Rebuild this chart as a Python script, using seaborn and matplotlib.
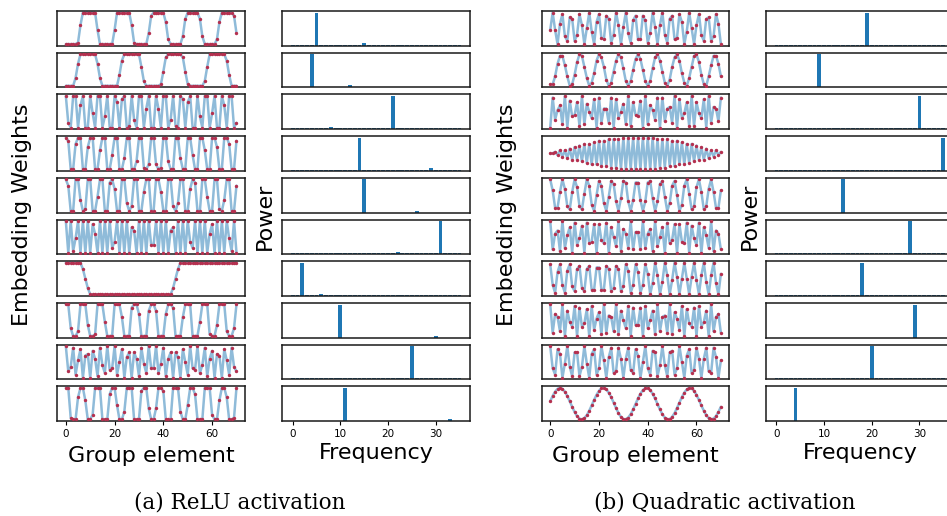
import matplotlib
matplotlib.use("Agg")
import matplotlib.pyplot as plt
import seaborn as sns

sns.set_theme(style="ticks")
plt.rcParams["font.family"] = ["DejaVu Sans"]
plt.rcParams["text.color"] = "black"
plt.rcParams["xtick.color"] = "black"

group_elements = list(range(71))
frequencies = list(range(36))
elem_ticks = [0, 20, 40, 60]
freq_ticks = [0, 10, 20, 30]

# ---------------- ReLU embedding weights (71 group elements each) ----------------
relu_w1 = [-1, -1, -1, -1, -1, -0.9, 0.2, 1, 1, 1,
           1, 1, 1, -0.1, -1, -1, -1, -1, -1, -1,
           -0.1, 1, 1, 1, 1, 1, 1, 0.2, -0.9, -1,
           -1, -1, -1, -1, -0.3, 0.8, 1, 1, 1, 1,
           1, 0.4, -0.7, -1, -1, -1, -1, -1, -0.5, 0.6,
           1, 1, 1, 1, 1, 0.6, -0.5, -1, -1, -1,
           -1, -1, -0.7, 0.4, 1, 1, 1, 1, 1, 0.8,
           -0.3]
relu_w2 = [-1, -1, -1, -1, -0.5, 0.4, 1, 1, 1, 1,
           1, 1, 1, 0.4, -0.5, -1, -1, -1, -1, -1,
           -1, -1, -0.3, 0.6, 1, 1, 1, 1, 1, 1,
           1, 0.2, -0.7, -1, -1, -1, -1, -1, -1, -0.9,
           -0.1, 0.8, 1, 1, 1, 1, 1, 1, 0.8, -0.1,
           -0.9, -1, -1, -1, -1, -1, -1, -0.7, 0.2, 1,
           1, 1, 1, 1, 1, 1, 0.6, -0.3, -1, -1,
           -1]
relu_w3 = [1, -0.7, -1, 1, 1, -1, 0.4, 1, -1, -1,
           1, -0.1, -1, 1, 1, -1, -0.3, 1, -1, -1,
           1, 0.6, -1, 0.8, 1, -1, -0.9, 1, -0.5, -1,
           1, 1, -1, 0.2, 1, -1, -1, 1, 0.2, -1,
           1, 1, -1, -0.5, 1, -0.9, -1, 1, 0.8, -1,
           0.6, 1, -1, -1, 1, -0.3, -1, 1, 1, -1,
           -0.1, 1, -1, -1, 1, 0.4, -1, 1, 1, -1,
           -0.7]
relu_w4 = [1, 0.8, -1, -1, 0.6, 1, 1, -1, -1, 0.4,
           1, 1, -1, -1, 0.2, 1, 1, -1, -1, -0.1,
           1, 1, -1, -1, -0.3, 1, 1, -1, -1, -0.5,
           1, 1, -0.9, -1, -0.7, 1, 1, -0.7, -1, -0.9,
           1, 1, -0.5, -1, -1, 1, 1, -0.3, -1, -1,
           1, 1, -0.1, -1, -1, 1, 1, 0.2, -1, -1,
           1, 1, 0.4, -1, -1, 1, 1, 0.6, -1, -1,
           0.8]
relu_w5 = [1, 0.6, -1, -1, 1, 1, -0.3, -1, -0.9, 1,
           1, -1, -1, -0.1, 1, 1, -1, -1, 0.8, 1,
           0.4, -1, -1, 1, 1, -0.5, -1, -0.7, 1, 1,
           -1, -1, 0.2, 1, 1, -1, -1, 1, 1, 0.2,
           -1, -1, 1, 1, -0.7, -1, -0.5, 1, 1, -1,
           -1, 0.4, 1, 0.8, -1, -1, 1, 1, -0.1, -1,
           -1, 1, 1, -0.9, -1, -0.3, 1, 1, -1, -1,
           0.6]
relu_w6 = [1, -1, 1, -0.9, -0.1, 1, -1, 1, -1, 1,
           -1, 0.8, 0.2, -1, 1, -1, 1, -1, 1, -0.7,
           -0.3, 1, -1, 1, -1, 1, -1, 0.6, 0.4, -1,
           1, -1, 1, -1, 1, -0.5, -0.5, 1, -1, 1,
           -1, 1, -1, 0.4, 0.6, -1, 1, -1, 1, -1,
           1, -0.3, -0.7, 1, -1, 1, -1, 1, -1, 0.2,
           0.8, -1, 1, -1, 1, -1, 1, -0.1, -0.9, 1,
           -1]
relu_w7 = [1, 1, 1, 1, 1, 1, 1, 0.6, 0, -0.6,
           -1, -1, -1, -1, -1, -1, -1, -1, -1, -1,
           -1, -1, -1, -1, -1, -1, -1, -1, -1, -1,
           -1, -1, -1, -1, -1, -1, -1, -1, -1, -1,
           -1, -1, -1, -1, -0.6, 0, 0.6, 1, 1, 1,
           1, 1, 1, 1, 1, 1, 1, 1, 1, 1,
           1, 1, 1, 1, 1, 1, 1, 1, 1, 1,
           1]
relu_w8 = [1, 1, -0.5, -1, -1, -0.7, 1, 1, 1, -0.3,
           -1, -1, -0.9, 1, 1, 1, -0.1, -1, -1, -1,
           1, 1, 1, 0.2, -1, -1, -1, 0.8, 1, 1,
           0.4, -1, -1, -1, 0.6, 1, 1, 0.6, -1, -1,
           -1, 0.4, 1, 1, 0.8, -1, -1, -1, 0.2, 1,
           1, 1, -1, -1, -1, -0.1, 1, 1, 1, -0.9,
           -1, -1, -0.3, 1, 1, 1, -0.7, -1, -1, -0.5,
           1]
relu_w9 = [1.0, -0.6, -0.3, 0.9, -0.8, 0.1, 0.8, -1.0, 0.4, 0.5,
           -1.0, 0.7, 0.2, -0.9, 0.9, -0.2, -0.7, 1.0, -0.5, -0.4,
           1.0, -0.8, 0.0, 0.8, -1.0, 0.3, 0.6, -1.0, 0.6, 0.2,
           -0.9, 0.9, -0.1, -0.7, 1.0, -0.4, -0.4, 1.0, -0.7, -0.1,
           0.9, -0.9, 0.2, 0.6, -1.0, 0.6, 0.3, -1.0, 0.8, 0.0,
           -0.8, 1.0, -0.4, -0.5, 1.0, -0.7, -0.2, 0.9, -0.9, 0.2,
           0.7, -1.0, 0.5, 0.4, -1.0, 0.8, 0.1, -0.8, 0.9, -0.3,
           -0.6]
relu_w10 = [1, 1, -0.9, -1, -1, 0.4, 1, 1, 0.2, -1,
            -1, -0.7, 1, 1, 1, -1, -1, -1, 0.6, 1,
            1, -0.1, -1, -1, -0.5, 1, 1, 1, -1, -1,
            -1, 0.8, 1, 1, -0.3, -1, -1, -0.3, 1, 1,
            0.8, -1, -1, -1, 1, 1, 1, -0.5, -1, -1,
            -0.1, 1, 1, 0.6, -1, -1, -1, 1, 1, 1,
            -0.7, -1, -1, 0.2, 1, 1, 0.4, -1, -1, -0.9,
            1]

# ---------------- Quadratic embedding weights ----------------
quad_w1 = [-0.1, 1.0, -0.1, -1.0, 0.3, 0.9, -0.5, -0.8, 0.7, 0.6,
           -0.8, -0.4, 0.9, 0.2, -1.0, 0.0, 1.0, -0.2, -1.0, 0.4,
           0.9, -0.6, -0.7, 0.8, 0.6, -0.9, -0.4, 1.0, 0.2, -1.0,
           0.1, 1.0, -0.3, -0.9, 0.5, 0.8, -0.7, -0.7, 0.8, 0.5,
           -0.9, -0.3, 1.0, 0.1, -1.0, 0.2, 1.0, -0.4, -0.9, 0.6,
           0.8, -0.7, -0.6, 0.9, 0.4, -1.0, -0.2, 1.0, 0.0, -1.0,
           0.2, 0.9, -0.4, -0.8, 0.6, 0.7, -0.8, -0.5, 0.9, 0.3,
           -1.0]
quad_w2 = [-0.9, -0.9, -0.4, 0.4, 0.9, 0.9, 0.3, -0.4, -1.0, -0.9,
           -0.3, 0.5, 1.0, 0.9, 0.2, -0.5, -1.0, -0.8, -0.2, 0.6,
           1.0, 0.8, 0.2, -0.6, -1.0, -0.8, -0.1, 0.6, 1.0, 0.8,
           0.1, -0.7, -1.0, -0.7, 0.0, 0.7, 1.0, 0.7, 0.0, -0.7,
           -1.0, -0.7, 0.1, 0.8, 1.0, 0.6, -0.1, -0.8, -1.0, -0.6,
           0.2, 0.8, 1.0, 0.6, -0.2, -0.8, -1.0, -0.5, 0.2, 0.9,
           1.0, 0.5, -0.3, -0.9, -1.0, -0.4, 0.3, 0.9, 0.9, 0.4,
           -0.4]
quad_w3 = [-1.0, 0.9, -0.5, 0.1, 0.4, -0.8, 1.0, -1.0, 0.7, -0.3,
           -0.2, 0.6, -0.9, 1.0, -0.8, 0.5, 0.0, -0.4, 0.8, -1.0,
           0.9, -0.7, 0.2, 0.2, -0.7, 0.9, -1.0, 0.8, -0.4, 0.0,
           0.5, -0.8, 1.0, -0.9, 0.6, -0.2, -0.3, 0.7, -1.0, 1.0,
           -0.8, 0.4, 0.1, -0.5, 0.9, -1.0, 0.9, -0.6, 0.2, 0.3,
           -0.7, 1.0, -1.0, 0.8, -0.4, -0.1, 0.6, -0.9, 1.0, -0.9,
           0.6, -0.1, -0.4, 0.8, -1.0, 1.0, -0.7, 0.3, 0.2, -0.6,
           0.9]
quad_w4 = [0.0, 0.0, 0.1, -0.1, 0.2, -0.2, 0.2, -0.3, 0.3, -0.4,
           0.4, -0.4, 0.5, -0.5, 0.6, -0.6, 0.6, -0.7, 0.7, -0.7,
           0.8, -0.8, 0.8, -0.8, 0.9, -0.9, 0.9, -0.9, 0.9, -1.0,
           1.0, -1.0, 1.0, -1.0, 1.0, -1.0, 1.0, -1.0, 1.0, -1.0,
           1.0, -1.0, 1.0, -1.0, 0.9, -0.9, 0.9, -0.9, 0.9, -0.8,
           0.8, -0.8, 0.8, -0.7, 0.7, -0.7, 0.6, -0.6, 0.6, -0.5,
           0.5, -0.4, 0.4, -0.4, 0.3, -0.3, 0.2, -0.2, 0.2, -0.1,
           0.1]
quad_w5 = [1.0, 0.3, -0.8, -0.8, 0.2, 1.0, 0.4, -0.7, -0.9, 0.2,
           1.0, 0.5, -0.7, -0.9, 0.1, 1.0, 0.6, -0.6, -1.0, 0.0,
           0.9, 0.6, -0.5, -1.0, -0.1, 0.9, 0.7, -0.4, -1.0, -0.2,
           0.9, 0.8, -0.4, -1.0, -0.3, 0.8, 0.8, -0.3, -1.0, -0.4,
           0.8, 0.9, -0.2, -1.0, -0.4, 0.7, 0.9, -0.1, -1.0, -0.5,
           0.6, 0.9, 0.0, -1.0, -0.6, 0.6, 1.0, 0.1, -0.9, -0.7,
           0.5, 1.0, 0.2, -0.9, -0.7, 0.4, 1.0, 0.2, -0.8, -0.8,
           0.3]
quad_w6 = [1.0, -0.8, 0.2, 0.4, -0.9, 1.0, -0.7, 0.1, 0.6, -1.0,
           0.9, -0.5, -0.1, 0.7, -1.0, 0.9, -0.4, -0.3, 0.8, -1.0,
           0.8, -0.2, -0.4, 0.9, -1.0, 0.6, 0.0, -0.6, 1.0, -0.9,
           0.5, 0.2, -0.7, 1.0, -0.8, 0.3, 0.3, -0.8, 1.0, -0.7,
           0.2, 0.5, -0.9, 1.0, -0.6, 0.0, 0.6, -1.0, 0.9, -0.4,
           -0.2, 0.8, -1.0, 0.8, -0.3, -0.4, 0.9, -1.0, 0.7, -0.1,
           -0.5, 0.9, -1.0, 0.6, 0.1, -0.7, 1.0, -0.9, 0.4, 0.2,
           -0.8]
quad_w7 = [0.9, -0.4, -0.9, 0.4, 0.9, -0.4, -0.9, 0.5, 0.9, -0.5,
           -0.8, 0.6, 0.8, -0.6, -0.8, 0.6, 0.8, -0.7, -0.7, 0.7,
           0.7, -0.7, -0.7, 0.8, 0.6, -0.8, -0.6, 0.8, 0.6, -0.8,
           -0.5, 0.9, 0.5, -0.9, -0.4, 0.9, 0.4, -0.9, -0.4, 0.9,
           0.3, -1.0, -0.3, 1.0, 0.2, -1.0, -0.2, 1.0, 0.2, -1.0,
           -0.1, 1.0, 0.1, -1.0, 0.0, 1.0, 0.0, -1.0, 0.1, 1.0,
           -0.1, -1.0, 0.2, 1.0, -0.2, -1.0, 0.2, 1.0, -0.3, -1.0,
           0.3]
quad_w8 = [1.0, -0.8, 0.4, 0.2, -0.7, 1.0, -1.0, 0.6, -0.1, -0.4,
           0.9, -1.0, 0.8, -0.4, -0.2, 0.7, -1.0, 0.9, -0.6, 0.1,
           0.5, -0.9, 1.0, -0.8, 0.3, 0.2, -0.7, 1.0, -0.9, 0.6,
           0.0, -0.5, 0.9, -1.0, 0.8, -0.3, -0.3, 0.8, -1.0, 0.9,
           -0.5, 0.0, 0.6, -0.9, 1.0, -0.7, 0.2, 0.3, -0.8, 1.0,
           -0.9, 0.5, 0.1, -0.6, 0.9, -1.0, 0.7, -0.2, -0.4, 0.8,
           -1.0, 0.9, -0.4, -0.1, 0.6, -1.0, 1.0, -0.7, 0.2, 0.4,
           -0.8]
quad_w9 = [1.0, -0.4, -0.8, 0.8, 0.5, -1.0, -0.1, 1.0, -0.3, -0.9,
           0.6, 0.6, -0.9, -0.3, 1.0, -0.1, -1.0, 0.5, 0.8, -0.8,
           -0.4, 1.0, 0.1, -1.0, 0.3, 0.9, -0.7, -0.6, 0.9, 0.2,
           -1.0, 0.2, 0.9, -0.5, -0.7, 0.8, 0.4, -1.0, 0.0, 1.0,
           -0.4, -0.8, 0.7, 0.6, -0.9, -0.2, 1.0, -0.2, -0.9, 0.6,
           0.7, -0.8, -0.4, 1.0, 0.0, -1.0, 0.4, 0.8, -0.7, -0.5,
           0.9, 0.2, -1.0, 0.2, 0.9, -0.6, -0.7, 0.9, 0.3, -1.0,
           0.1]
quad_w10 = [0.15, 0.49, 0.76, 0.94, 1.00, 0.94, 0.76, 0.49, 0.15, -0.20,
            -0.53, -0.79, -0.95, -1.00, -0.92, -0.73, -0.45, -0.11, 0.24, 0.56,
            0.81, 0.97, 1.00, 0.90, 0.70, 0.41, 0.07, -0.28, -0.60, -0.84,
            -0.98, -0.99, -0.88, -0.67, -0.37, -0.02, 0.33, 0.63, 0.86, 0.98,
            0.98, 0.86, 0.63, 0.33, -0.02, -0.37, -0.67, -0.88, -0.99, -0.98,
            -0.84, -0.60, -0.28, 0.07, 0.41, 0.70, 0.90, 1.00, 0.97, 0.81,
            0.56, 0.24, -0.11, -0.45, -0.73, -0.92, -1.00, -0.95, -0.79, -0.53,
            -0.20]

# ---------------- Power spectra (frequencies 0..35) ----------------
relu_p1 = [.03, .03, .03, .03, .03, 1.0, .03, .03, .03, .03, .03, .03, .03, .03, .03, .07, .03, .03,
           .03, .03, .03, .03, .03, .03, .03, .03, .03, .03, .03, .03, .03, .03, .03, .03, .03, .03]
relu_p2 = [0, 0, 0, 0, 1.0, 0, 0, 0, 0, 0, 0, 0, .07, 0, 0, 0, 0, 0,
           0, 0, 0, 0, 0, 0, 0, 0, 0, 0, 0, 0, 0, 0, 0, 0, 0, 0]
relu_p3 = [.03, .03, .03, .03, .03, .03, .03, .03, .06, .03, .03, .03, .03, .03, .03, .03, .03, .03,
           .03, .03, .03, 1.0, .03, .03, .03, .03, .03, .03, .03, .03, .03, .03, .03, .03, .03, .03]
relu_p4 = [.03, .03, .03, .03, .03, .03, .03, .03, .03, .03, .03, .03, .03, .03, 1.0, .03, .03, .03,
           .03, .03, .03, .03, .03, .03, .03, .03, .03, .03, .03, .07, .03, .03, .03, .03, .03, .03]
relu_p5 = [0, 0, 0, 0, 0, 0, 0, 0, 0, 0, 0, 0, 0, 0, 0, 1.0, 0, 0,
           0, 0, 0, 0, 0, 0, 0, 0, .06, 0, 0, 0, 0, 0, 0, 0, 0, 0]
relu_p6 = [.03, .03, .03, .03, .03, .03, .03, .03, .03, .03, .03, .03, .03, .03, .03, .03, .03, .03,
           .03, .03, .03, .03, .07, .03, .03, .03, .03, .03, .03, .03, .03, 1.0, .03, .03, .03, .03]
relu_p7 = [.03, .03, 1.0, .03, .03, .03, .07, .03, .03, .03, .03, .03, .03, .03, .03, .03, .03, .03,
           .03, .03, .03, .03, .03, .03, .03, .03, .03, .03, .03, .03, .03, .03, .03, .03, .03, .03]
relu_p8 = [0, 0, 0, 0, 0, 0, 0, 0, 0, 0, 1.0, 0, 0, 0, 0, 0, 0, 0,
           0, 0, 0, 0, 0, 0, 0, 0, 0, 0, 0, 0, .06, 0, 0, 0, 0, 0]
relu_p9 = [.03, .03, .03, .03, .05, .03, .03, .03, .04, .03, .03, .03, .03, .03, .03, .03, .03, .04,
           .03, .03, .03, .04, .03, .03, .03, 1.0, .03, .03, .03, .04, .03, .03, .03, .03, .03, .03]
relu_p10 = [0, 0, 0, 0, 0, 0, 0, 0, 0, 0, 0, 1.0, 0, 0, 0, 0, 0, 0,
            0, 0, 0, 0, 0, 0, 0, 0, 0, 0, 0, 0, 0, 0, 0, .07, 0, 0]

quad_p1 = [.03, .03, .03, .03, .03, .03, .03, .03, .03, .03, .03, .03, .03, .03, .03, .03, .03, .03,
           .03, 1.0, .03, .03, .03, .03, .03, .03, .03, .03, .03, .03, .03, .03, .03, .03, .03, .03]
quad_p2 = [0, 0, 0, 0, 0, 0, 0, 0, 0, 1.0, 0, 0, 0, 0, 0, 0, 0, 0,
           0, 0, 0, 0, 0, 0, 0, 0, 0, 0, 0, 0, 0, 0, 0, 0, 0, 0]
quad_p3 = [.03, .03, .03, .03, .03, .03, .03, .03, .03, .03, .03, .03, .03, .03, .03, .03, .03, .03,
           .03, .03, .03, .03, .03, .03, .03, .03, .03, .03, .03, .03, 1.0, .03, .03, .03, .03, .03]
quad_p4 = [.03, .03, .03, .03, .03, .03, .03, .03, .03, .03, .03, .03, .03, .03, .03, .03, .03, .03,
           .03, .03, .03, .03, .03, .03, .03, .03, .03, .03, .03, .03, .03, .03, .03, .03, .03, 1.0]
quad_p5 = [0, 0, 0, 0, 0, 0, 0, 0, 0, 0, 0, 0, 0, 0, 1.0, 0, 0, 0,
           0, 0, 0, 0, 0, 0, 0, 0, 0, 0, 0, 0, 0, 0, 0, 0, 0, 0]
quad_p6 = [.03, .03, .03, .03, .03, .03, .03, .03, .03, .03, .03, .03, .03, .03, .03, .03, .03, .03,
           .03, .03, .03, .03, .03, .03, .03, .03, .03, .03, 1.0, .03, .03, .03, .03, .03, .03, .03]
quad_p7 = [.03, .03, .03, .03, .03, .03, .03, .03, .03, .03, .03, .03, .03, .03, .03, .03, .03, .03,
           1.0, .03, .03, .03, .03, .03, .03, .03, .03, .03, .03, .03, .03, .03, .03, .03, .03, .03]
quad_p8 = [0, 0, 0, 0, 0, 0, 0, 0, 0, 0, 0, 0, 0, 0, 0, 0, 0, 0,
           0, 0, 0, 0, 0, 0, 0, 0, 0, 0, 0, 1.0, 0, 0, 0, 0, 0, 0]
quad_p9 = [.03, .03, .03, .03, .03, .03, .03, .03, .03, .03, .03, .03, .03, .03, .03, .03, .03, .03,
           .03, .03, 1.0, .03, .03, .03, .03, .03, .03, .03, .03, .03, .03, .03, .03, .03, .03, .03]
quad_p10 = [0, 0, 0, 0, 1.0, 0, 0, 0, 0, 0, 0, 0, 0, 0, 0, 0, 0, 0,
            0, 0, 0, 0, 0, 0, 0, 0, 0, 0, 0, 0, 0, 0, 0, 0, 0, 0]

relu_weights = [relu_w1, relu_w2, relu_w3, relu_w4, relu_w5, relu_w6, relu_w7, relu_w8, relu_w9, relu_w10]
relu_power = [relu_p1, relu_p2, relu_p3, relu_p4, relu_p5, relu_p6, relu_p7, relu_p8, relu_p9, relu_p10]
quad_weights = [quad_w1, quad_w2, quad_w3, quad_w4, quad_w5, quad_w6, quad_w7, quad_w8, quad_w9, quad_w10]
quad_power = [quad_p1, quad_p2, quad_p3, quad_p4, quad_p5, quad_p6, quad_p7, quad_p8, quad_p9, quad_p10]

# ---------------- layout ----------------
W, H = 947, 516
fig = plt.figure(figsize=(W / 100, H / 100), dpi=100)

ROW_TOP, ROW_PITCH, ROW_H, COL_W = 11.0, 41.7, 34.7, 187.7
LINE_C = "#8fbbd9"
DOT_C = "#b5304f"
BAR_C = "#1f77b4"
BAR_W = 0.8


def add_ax(left, top):
    return fig.add_axes([left / W, 1 - (top + ROW_H) / H, COL_W / W, ROW_H / H])


def style(ax, last, ticks):
    for s in ax.spines.values():
        s.set_color("#1a1a1a")
        s.set_linewidth(1.1)
    ax.set_yticks([])
    ax.set_ylabel("")
    ax.set_xlabel("")
    if last:
        ax.set_xticks(ticks)
        ax.set_xticklabels([str(t) for t in ticks])
        ax.tick_params(axis="x", length=3, width=0.8, labelsize=7.5, pad=3)
    else:
        ax.set_xticks([])


panels = [(57.3, 282.3, relu_weights, relu_power), (541.7, 766.0, quad_weights, quad_power)]
n_freq = len(frequencies)
pad = 0.05 * (n_freq - 1 + BAR_W)
for wx, px, weights, power in panels:
    for i in range(10):
        top = ROW_TOP + i * ROW_PITCH
        last = i == 9
        ax = add_ax(wx, top)
        sns.lineplot(x=group_elements, y=weights[i], ax=ax, color=LINE_C, linewidth=1.8)
        sns.scatterplot(x=group_elements, y=weights[i], ax=ax, color=DOT_C, s=6,
                        linewidth=0, zorder=3)
        style(ax, last, elem_ticks)

        axp = add_ax(px, top)
        sns.barplot(x=frequencies, y=power[i], ax=axp, color=BAR_C, saturation=1,
                    width=BAR_W, native_scale=True, linewidth=0, edgecolor=BAR_C)
        axp.set_xlim(-BAR_W / 2 - pad, n_freq - 1 + BAR_W / 2 + pad)
        axp.set_ylim(0, 1.05)
        style(axp, last, freq_ticks)

LBL = 16
fig.text(22 / W, 1 - 215 / H, "Embedding Weights", rotation=90, ha="center", va="center", fontsize=LBL)
fig.text(265 / W, 1 - 216 / H, "Power", rotation=90, ha="center", va="center", fontsize=LBL)
fig.text(507 / W, 1 - 215 / H, "Embedding Weights", rotation=90, ha="center", va="center", fontsize=LBL)
fig.text(750 / W, 1 - 216 / H, "Power", rotation=90, ha="center", va="center", fontsize=LBL)
fig.text(151 / W, 1 - 456 / H, "Group element", ha="center", va="center", fontsize=LBL)
fig.text(376 / W, 1 - 453 / H, "Frequency", ha="center", va="center", fontsize=LBL)
fig.text(635 / W, 1 - 456 / H, "Group element", ha="center", va="center", fontsize=LBL)
fig.text(860 / W, 1 - 453 / H, "Frequency", ha="center", va="center", fontsize=LBL)

fig.text(240 / W, 1 - 503 / H, "(a) ReLU activation", ha="center", va="center",
         fontsize=15.5, family="DejaVu Serif")
fig.text(725 / W, 1 - 503 / H, "(b) Quadratic activation", ha="center", va="center",
         fontsize=15.5, family="DejaVu Serif")

fig.savefig("out.png", dpi=100)
